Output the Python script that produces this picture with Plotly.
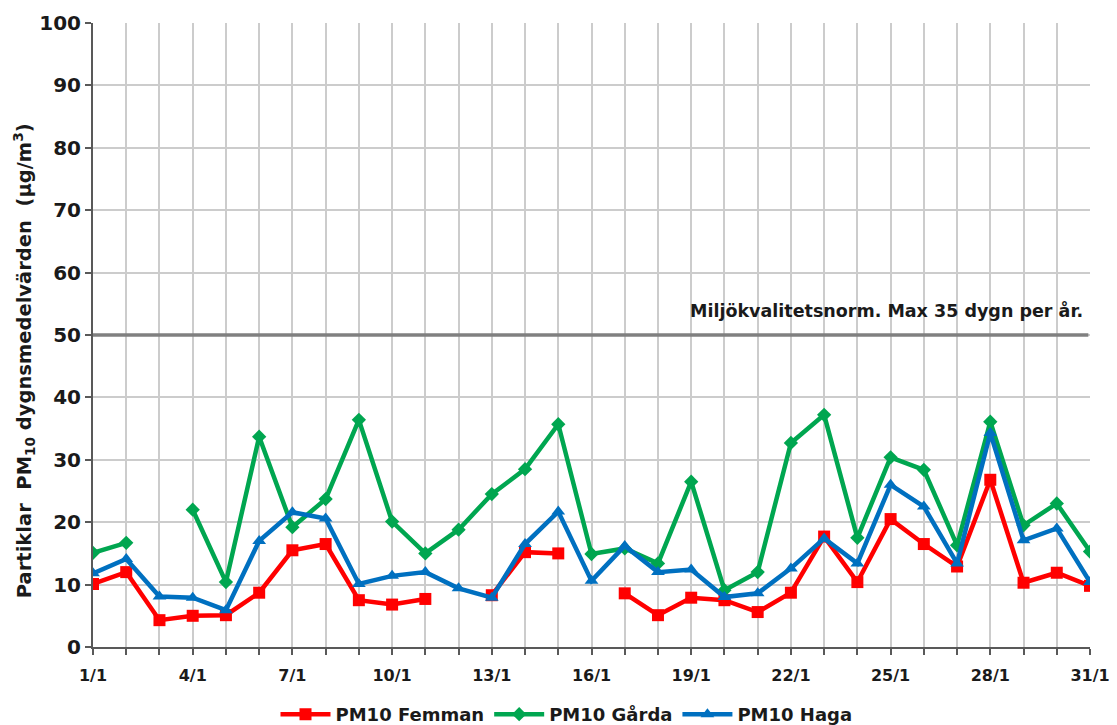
import plotly.graph_objects as go

days = list(range(1, 32))
tick_labels = [f"{d}/1" if (d - 1) % 3 == 0 else "" for d in days]

femman = [10.1, 12.0, 4.3, 5.0, 5.1, 8.7, 15.5, 16.5, 7.5, 6.8, 7.7, None, 8.3, 15.2, 15.0, None,
          8.6, 5.1, 7.9, 7.5, 5.6, 8.7, 17.7, 10.4, 20.5, 16.5, 12.9, 26.8, 10.3, 11.9, 9.8]
garda = [15.1, 16.7, None, 22.0, 10.4, 33.7, 19.2, 23.7, 36.4, 20.1, 15.0, 18.8, 24.5, 28.5, 35.7, 14.9,
         15.8, 13.4, 26.5, 9.1, 12.0, 32.7, 37.2, 17.5, 30.4, 28.4, 16.3, 36.1, 19.5, 23.0, 15.3]
haga = [11.8, 14.1, 8.1, 7.9, 5.9, 17.0, 21.6, 20.6, 10.1, 11.4, 12.0, 9.4, 7.9, 16.5, 21.7, 10.6,
        16.2, 12.0, 12.4, 8.0, 8.6, 12.6, 17.4, 13.4, 26.0, 22.5, 13.4, 34.3, 17.1, 19.0, 10.4]

norm_value = 50
norm_text = "Miljökvalitetsnorm. Max 35 dygn per år."
y_title = "Partiklar  PM<sub>10</sub> dygnsmedelvärden  (µg/m<sup>3</sup>)"

FONT = "DejaVu Sans"
TXT = "#1a1a1a"

fig = go.Figure()
fig.add_trace(go.Scatter(x=days, y=femman, name="PM10 Femman", mode="lines+markers",
                         line=dict(color="#FF0000", width=4.5),
                         marker=dict(symbol="square", size=12, color="#FF0000")))
fig.add_trace(go.Scatter(x=days, y=garda, name="PM10 Gårda", mode="lines+markers",
                         line=dict(color="#00A650", width=4.5),
                         marker=dict(symbol="diamond", size=11, color="#00A650")))
fig.add_trace(go.Scatter(x=days, y=haga, name="PM10 Haga", mode="lines+markers",
                         line=dict(color="#0070C0", width=4.5),
                         marker=dict(symbol="triangle-up", size=12, color="#0070C0")))

fig.add_shape(type="line", xref="x", yref="y", x0=1, x1=30.95, y0=norm_value, y1=norm_value,
              line=dict(color="#808080", width=3.5), layer="above")
fig.add_annotation(x=31, y=norm_value, xref="x", yref="y", text=norm_text, showarrow=False,
                   xanchor="right", yanchor="bottom", xshift=-5, yshift=12,
                   font=dict(family=FONT, size=17.5, color=TXT, weight="bold"))
fig.add_annotation(x=0, y=0.458, xref="paper", yref="paper", text=y_title, showarrow=False,
                   textangle=-90, xanchor="center", yanchor="middle", xshift=-69,
                   font=dict(family=FONT, size=19.5, color=TXT, weight="bold"))

fig.update_layout(
    width=1117, height=725,
    margin=dict(l=85, r=35, t=15, b=86),
    plot_bgcolor="white", paper_bgcolor="white",
    font=dict(family=FONT, color=TXT),
    showlegend=True,
    legend=dict(orientation="h", x=0.5, xref="container", xanchor="center",
                y=0.0, yref="container", yanchor="bottom",
                font=dict(family=FONT, size=18, color=TXT, weight="bold"),
                itemwidth=50, tracegroupgap=0),
    xaxis=dict(range=[1, 31], tickmode="array", tickvals=days, ticktext=tick_labels,
               automargin=False,
               showgrid=True, gridcolor="#cccccc", gridwidth=1.5,
               ticks="outside", ticklen=6, tickcolor="#595959", tickwidth=1.5,
               showline=True, linecolor="#595959", linewidth=2,
               tickfont=dict(family=FONT, size=16, color=TXT, weight="bold"),
               ticklabelstandoff=7,
               zeroline=False),
    yaxis=dict(range=[0, 100], dtick=10, automargin=False,
               showgrid=True, gridcolor="#cccccc", gridwidth=1.5,
               ticks="outside", ticklen=6, tickcolor="#595959", tickwidth=1.5,
               showline=True, linecolor="#595959", linewidth=2,
               tickfont=dict(family=FONT, size=20, color=TXT, weight="bold"),
               zeroline=False),
)

fig.write_html("out.html")
